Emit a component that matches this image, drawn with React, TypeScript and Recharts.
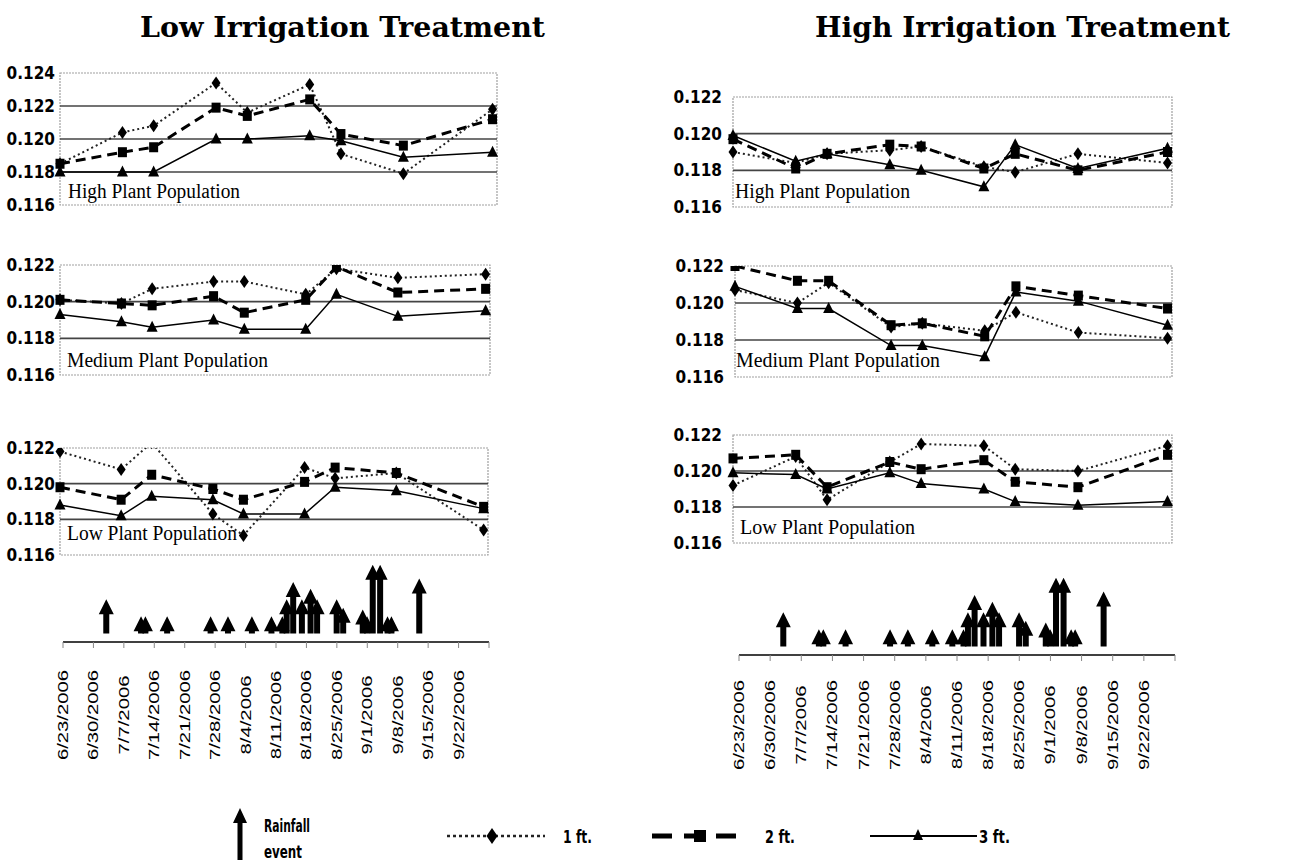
import React from 'react';
import { LineChart, Line, XAxis, YAxis, ReferenceLine, ReferenceArea, BarChart, Bar } from 'recharts';

// ---- sampling dates (days after 6/23/2006) ----
const sampleDays = [0, 14, 21, 35, 42, 56, 63, 77, 97];
const weekTicks = [0, 7, 14, 21, 28, 35, 42, 49, 56, 63, 70, 77, 84, 91, 98];
const dateLabels = ['6/23/2006', '6/30/2006', '7/7/2006', '7/14/2006', '7/21/2006', '7/28/2006', '8/4/2006', '8/11/2006', '8/18/2006', '8/25/2006', '9/1/2006', '9/8/2006', '9/15/2006', '9/22/2006'];

const yTicksTall = [0.116, 0.118, 0.12, 0.122, 0.124];
const yTicksShort = [0.116, 0.118, 0.12, 0.122];

// ---- Low irrigation ----
const lowHigh1ft = [0.1185, 0.1204, 0.1208, 0.1234, 0.1216, 0.1233, 0.1191, 0.1179, 0.1218];
const lowHigh2ft = [0.1185, 0.1192, 0.1195, 0.1219, 0.1214, 0.1224, 0.1203, 0.1196, 0.1212];
const lowHigh3ft = [0.118, 0.118, 0.118, 0.12, 0.12, 0.1202, 0.1199, 0.1189, 0.1192];

const lowMed1ft = [0.1201, 0.1199, 0.1207, 0.1211, 0.1211, 0.1204, 0.1218, 0.1213, 0.1215];
const lowMed2ft = [0.1201, 0.1199, 0.1198, 0.1203, 0.1194, 0.1201, 0.1219, 0.1205, 0.1207];
const lowMed3ft = [0.1193, 0.1189, 0.1186, 0.119, 0.1185, 0.1185, 0.1204, 0.1192, 0.1195];

const lowLow1ft = [0.1218, 0.1208, 0.1223, 0.1183, 0.1171, 0.1209, 0.1203, 0.1206, 0.1174];
const lowLow2ft = [0.1198, 0.1191, 0.1205, 0.1197, 0.1191, 0.1201, 0.1209, 0.1206, 0.1187];
const lowLow3ft = [0.1188, 0.1182, 0.1193, 0.1191, 0.1183, 0.1183, 0.1198, 0.1196, 0.1186];

// ---- High irrigation ----
const highHigh1ft = [0.119, 0.1184, 0.1189, 0.1191, 0.1193, 0.1182, 0.1179, 0.1189, 0.1184];
const highHigh2ft = [0.1197, 0.1181, 0.1189, 0.1194, 0.1193, 0.1181, 0.1189, 0.118, 0.119];
const highHigh3ft = [0.1199, 0.1185, 0.1189, 0.1183, 0.118, 0.1171, 0.1194, 0.1181, 0.1192];

const highMed1ft = [0.1207, 0.12, 0.1211, 0.1187, 0.1189, 0.1185, 0.1195, 0.1184, 0.1181];
const highMed2ft = [0.122, 0.1212, 0.1212, 0.1188, 0.1189, 0.1182, 0.1209, 0.1204, 0.1197];
const highMed3ft = [0.1209, 0.1197, 0.1197, 0.1177, 0.1177, 0.1171, 0.1206, 0.1201, 0.1188];

const highLow1ft = [0.1192, 0.1208, 0.1184, 0.1205, 0.1215, 0.1214, 0.1201, 0.12, 0.1214];
const highLow2ft = [0.1207, 0.1209, 0.1191, 0.1205, 0.1201, 0.1206, 0.1194, 0.1191, 0.1209];
const highLow3ft = [0.1199, 0.1198, 0.119, 0.1199, 0.1193, 0.119, 0.1183, 0.1181, 0.1183];

// ---- rainfall events (day after 6/23, relative amount) ----
const rainDays = [10, 18, 19, 24, 34, 38, 43.5, 48, 50.5, 51.5, 53, 55, 57, 58.5, 63, 64.5, 69, 70, 71.3, 73, 74.7, 75.6, 82];
const rainAmounts = [1.0, 0.5, 0.5, 0.5, 0.5, 0.5, 0.5, 0.5, 0.5, 1.0, 1.5, 1.0, 1.3, 1.0, 1.0, 0.75, 0.7, 0.5, 2.0, 2.0, 0.5, 0.5, 1.6];

const rainData = rainDays.map((d, i) => ({ day: d, rain: rainAmounts[i] }));

const TICK_FONT = { fontFamily: 'DejaVu Sans Condensed, DejaVu Sans', fontWeight: 'bold', fontSize: 17, fill: '#000' } as const;

const Diamond = (p: any) => {
  if (p.cx == null || p.cy == null) return <g key={`dm-${p.index}`} />;
  const { cx, cy } = p;
  return <path key={`dm-${p.index}`} d={`M${cx},${cy - 6.5} L${cx + 4.5},${cy} L${cx},${cy + 6.5} L${cx - 4.5},${cy} Z`} fill="#000" />;
};
const Square = (p: any) => {
  if (p.cx == null || p.cy == null) return <g key={`sq-${p.index}`} />;
  return <rect key={`sq-${p.index}`} x={p.cx - 4.5} y={p.cy - 5} width={9} height={10} fill="#000" />;
};
const Triangle = (p: any) => {
  if (p.cx == null || p.cy == null) return <g key={`tr-${p.index}`} />;
  const { cx, cy } = p;
  return <path key={`tr-${p.index}`} d={`M${cx},${cy - 6.5} L${cx + 5.5},${cy + 4.5} L${cx - 5.5},${cy + 4.5} Z`} fill="#000" />;
};

const PanelText = (p: any) => {
  const vb = p.viewBox || {};
  return (
    <text
      x={vb.x + p.dx}
      y={vb.y + vb.height - p.up}
      fontFamily="Liberation Serif, Times New Roman, serif"
      fontSize={20}
      fill="#000"
      textLength={p.w}
      lengthAdjust="spacingAndGlyphs"
    >
      {p.text}
    </text>
  );
};

type PanelProps = {
  left: number; top: number; width: number; height: number;
  yTicks: number[]; s1: number[]; s2: number[]; s3: number[];
  label: string; dx: number; up: number; lw: number; yGap: number;
};

const Panel = ({ left, top, width, height, yTicks, s1, s2, s3, label, dx, up, lw, yGap }: PanelProps) => {
  const data = sampleDays.map((d, i) => ({ day: d, ft1: s1[i], ft2: s2[i], ft3: s3[i] }));
  const yMin = yTicks[0];
  const yMax = yTicks[yTicks.length - 1];
  return (
    <div style={{ position: 'absolute', left, top }}>
      <LineChart width={width} height={height} data={data} margin={{ top: 13, right: 13, left: 0, bottom: 0 }}>
        <XAxis dataKey="day" type="number" domain={[0, 98]} ticks={weekTicks} interval={0} axisLine={false} tick={false} tickLine={{ stroke: '#999' }} tickSize={9} height={20} />
        <YAxis type="number" domain={[yMin, yMax]} ticks={yTicks} interval={0} allowDataOverflow width={60} axisLine={false} tickLine={false} tickSize={yGap - 2} tickMargin={2} tickFormatter={(v: number) => v.toFixed(3)} tick={TICK_FONT} />
        <ReferenceArea x1={0} x2={98} y1={yMin} y2={yMax} fill="none" fillOpacity={0} stroke="#a0a0a0" strokeDasharray="2 1" strokeWidth={1.2}
          label={<PanelText text={label} dx={dx} up={up} w={lw} />} />
        {yTicks.slice(1, -1).map((t) => (
          <ReferenceLine key={t} y={t} stroke="#444" strokeWidth={1.7} />
        ))}
        <Line dataKey="ft1" stroke="#222" strokeWidth={2} strokeDasharray="2 3" dot={Diamond} activeDot={false} isAnimationActive={false} />
        <Line dataKey="ft2" stroke="#000" strokeWidth={3} strokeDasharray="10 6" dot={Square} activeDot={false} isAnimationActive={false} />
        <Line dataKey="ft3" stroke="#000" strokeWidth={1.5} dot={Triangle} activeDot={false} isAnimationActive={false} />
      </LineChart>
    </div>
  );
};

const Arrow = (p: any) => {
  const { x, y, width, height } = p;
  if (x == null || y == null || !height) return <g />;
  const cx = x + width / 2;
  const tip = y;
  const base = y + height;
  const headH = 15;
  const headW = 7.5;
  const sw = 3;
  const hb = Math.min(tip + headH, base);
  return (
    <path
      d={`M${cx},${tip} L${cx + headW},${hb} L${cx + sw},${hb} L${cx + sw},${base} L${cx - sw},${base} L${cx - sw},${hb} L${cx - headW},${hb} Z`}
      fill="#000"
    />
  );
};

const DateTick = (p: any) => {
  const { x, y, payload, off } = p;
  const idx = Math.round(payload.value / 7);
  const label = dateLabels[idx];
  if (!label) return <g />;
  return (
    <text
      transform={`translate(${x},${y + off}) rotate(-90) scale(1.45,1)`}
      textAnchor="middle"
      dy="0.36em"
      fontFamily="Liberation Sans, Arial, sans-serif"
      fontSize={14}
      fill="#000"
    >
      {label}
    </text>
  );
};

const RainPanel = ({ left, top, width, marginLeft, off }: { left: number; top: number; width: number; marginLeft: number; off: number }) => (
  <div style={{ position: 'absolute', left, top }}>
    <BarChart width={width} height={219} data={rainData} margin={{ top: 5, right: 10, left: marginLeft, bottom: 0 }}>
      <XAxis dataKey="day" type="number" domain={[0, 98]} ticks={weekTicks} interval={0}
        axisLine={{ stroke: '#000', strokeWidth: 1.5 }} tickLine={{ stroke: '#888' }} tickSize={6}
        height={130} tick={<DateTick off={off} />} />
      <YAxis hide type="number" domain={[-0.25, 2.2]} allowDataOverflow />
      <Bar dataKey="rain" barSize={6} shape={<Arrow />} isAnimationActive={false} />
    </BarChart>
  </div>
);

const LEG_FONT = { fontFamily: 'DejaVu Sans Condensed, DejaVu Sans', fontWeight: 'bold' as const, fontSize: 17, fill: '#000' };

export default function App() {
  return (
    <div style={{ position: 'absolute', left: 0, top: 0, width: 1312, height: 862, background: '#fff', overflow: 'hidden' }}>
      <Panel left={0} top={60} width={510} height={165} yTicks={yTicksTall} s1={lowHigh1ft} s2={lowHigh2ft} s3={lowHigh3ft} label="High Plant Population" dx={8} up={7} lw={172} yGap={5} />
      <Panel left={0} top={252} width={503} height={143} yTicks={yTicksShort} s1={lowMed1ft} s2={lowMed2ft} s3={lowMed3ft} label="Medium Plant Population" dx={7} up={8} lw={201} yGap={5} />
      <Panel left={0} top={435} width={501} height={140} yTicks={yTicksShort} s1={lowLow1ft} s2={lowLow2ft} s3={lowLow3ft} label="Low Plant Population" dx={7} up={15} lw={170} yGap={5} />

      <Panel left={673} top={84} width={512} height={143} yTicks={yTicksShort} s1={highHigh1ft} s2={highHigh2ft} s3={highHigh3ft} label="High Plant Population" dx={2} up={9} lw={175} yGap={11} />
      <Panel left={675} top={253} width={510} height={144} yTicks={yTicksShort} s1={highMed1ft} s2={highMed2ft} s3={highMed3ft} label="Medium Plant Population" dx={1} up={10} lw={204} yGap={11} />
      <Panel left={673} top={422} width={512} height={141} yTicks={yTicksShort} s1={highLow1ft} s2={highLow2ft} s3={highLow3ft} label="Low Plant Population" dx={7} up={9} lw={175} yGap={11} />

      <RainPanel left={0} top={553} width={499} marginLeft={63} off={65} />
      <RainPanel left={660} top={566} width={525} marginLeft={79} off={62} />

      <svg width={1312} height={862} style={{ position: 'absolute', left: 0, top: 0, pointerEvents: 'none' }}>
        <text x={140} y={37} fontFamily="DejaVu Serif, serif" fontWeight="bold" fontSize={28} textLength={405} lengthAdjust="spacingAndGlyphs" fill="#000">Low Irrigation Treatment</text>
        <text x={815} y={37} fontFamily="DejaVu Serif, serif" fontWeight="bold" fontSize={28} textLength={415} lengthAdjust="spacingAndGlyphs" fill="#000">High Irrigation Treatment</text>

        {/* legend */}
        <path d="M240,808 L247,823 L242.5,823 L242.5,860 L237.5,860 L237.5,823 L233,823 Z" fill="#000" />
        <text x={264} y={832} {...LEG_FONT} textLength={46} lengthAdjust="spacingAndGlyphs">Rainfall</text>
        <text x={264} y={858} {...LEG_FONT} textLength={38} lengthAdjust="spacingAndGlyphs">event</text>

        <line x1={447} x2={545} y1={836} y2={836} stroke="#222" strokeWidth={2.5} strokeDasharray="3 3" />
        <path d="M492,828 L497.5,836 L492,844 L486.5,836 Z" fill="#000" />
        <text x={563} y={843} {...LEG_FONT} textLength={29} lengthAdjust="spacingAndGlyphs">1 ft.</text>

        <line x1={652} x2={745} y1={836} y2={836} stroke="#000" strokeWidth={5} strokeDasharray="20 12" />
        <rect x={694} y={830} width={12} height={12} fill="#000" />
        <text x={765} y={843} {...LEG_FONT} textLength={30} lengthAdjust="spacingAndGlyphs">2 ft.</text>

        <line x1={870} x2={977} y1={836} y2={836} stroke="#000" strokeWidth={2} />
        <path d="M918,829 L923,840 L913,840 Z" fill="#000" />
        <text x={979} y={843} {...LEG_FONT} textLength={31} lengthAdjust="spacingAndGlyphs">3 ft.</text>
      </svg>
    </div>
  );
}
